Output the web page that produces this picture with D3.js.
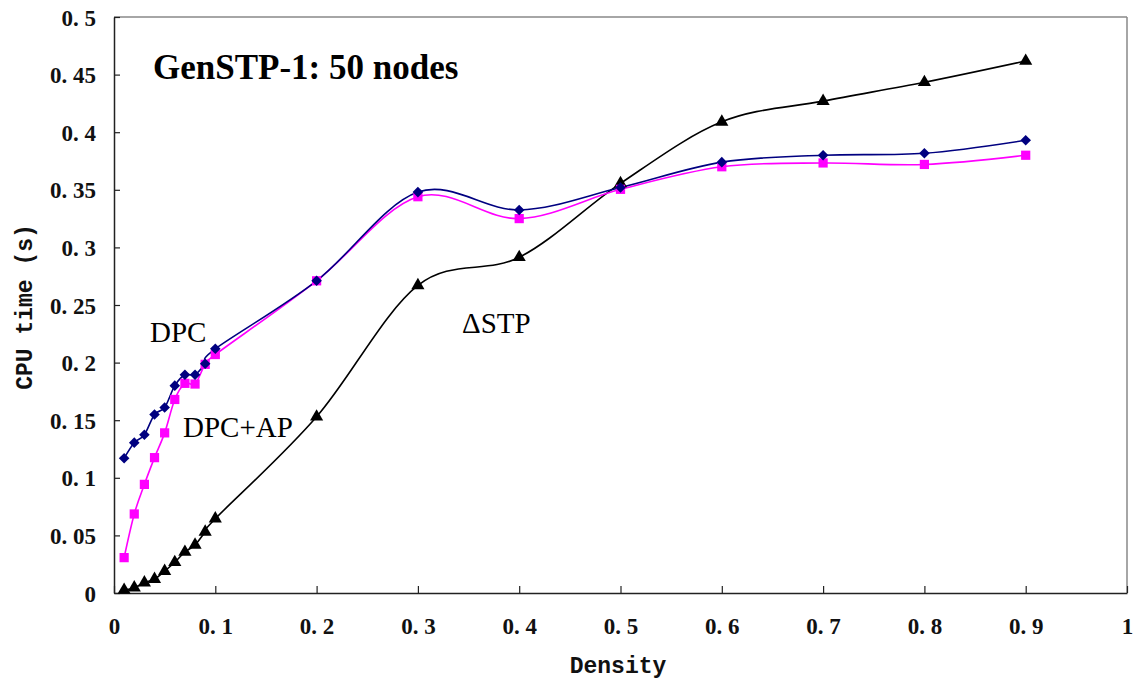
<!DOCTYPE html>
<html><head><meta charset="utf-8">
<script src="https://cdn.jsdelivr.net/npm/d3@7"></script>
<style>body{margin:0;background:#fff}</style>
</head><body>
<svg id="c" width="1141" height="685"></svg>
<script>
const density = [0.01,0.02,0.03,0.04,0.05,0.06,0.07,0.08,0.09,0.1,0.2,0.3,0.4,0.5,0.6,0.7,0.8,0.9];
const dpc    = [0.117,0.1305,0.1374,0.155,0.161,0.180,0.1895,0.1895,0.199,0.212,0.271,0.348,0.3325,0.352,0.374,0.380,0.3817,0.393];
const dpcAp  = [0.0307,0.0686,0.0943,0.1175,0.139,0.168,0.182,0.1814,0.1985,0.207,0.271,0.3440,0.325,0.3504,0.370,0.3733,0.372,0.380];
const dstp   = [0.0026,0.0046,0.009,0.012,0.019,0.0267,0.0356,0.0417,0.053,0.0645,0.1530,0.267,0.2914,0.3556,0.409,0.427,0.4433,0.4618];
const xTicks = [0,0.1,0.2,0.3,0.4,0.5,0.6,0.7,0.8,0.9,1];
const yTicks = [0,0.05,0.1,0.15,0.2,0.25,0.3,0.35,0.4,0.45,0.5];
const xTickLabels = ["0","0. 1","0. 2","0. 3","0. 4","0. 5","0. 6","0. 7","0. 8","0. 9","1"];
const yTickLabels = ["0","0. 05","0. 1","0. 15","0. 2","0. 25","0. 3","0. 35","0. 4","0. 45","0. 5"];

const svg = d3.select("#c");
const L=114, R=1127, T=17, B=593;
const x = d3.scaleLinear().domain([0,1]).range([L,R]);
const y = d3.scaleLinear().domain([0,0.5]).range([B,T]);
const serif = "'Liberation Serif', 'Times New Roman', serif";
const mono = "'Liberation Mono', monospace";

// frame
svg.append("line").attr("x1",L).attr("x2",R).attr("y1",T).attr("y2",T).attr("stroke","#888").attr("stroke-width",1.5);
svg.append("line").attr("x1",R).attr("x2",R).attr("y1",T).attr("y2",B).attr("stroke","#888").attr("stroke-width",1.5);

const xAxis = svg.append("g").attr("transform",`translate(0,${B})`)
  .call(d3.axisBottom(x).tickValues(xTicks).tickSizeInner(-7).tickSizeOuter(0).tickFormat((d,i)=>xTickLabels[i]));
xAxis.select(".domain").attr("stroke","#222").attr("stroke-width",1.5);
xAxis.selectAll(".tick line").attr("stroke","#222").attr("stroke-width",1.2);
xAxis.selectAll("text").attr("dy",0).attr("y",41).attr("font-family",serif).attr("font-weight","bold").attr("font-size",23).attr("fill","#111");

const yAxis = svg.append("g").attr("transform",`translate(${L},0)`)
  .call(d3.axisLeft(y).tickValues(yTicks).tickSizeInner(-6).tickSizeOuter(0).tickFormat((d,i)=>yTickLabels[i]));
yAxis.select(".domain").attr("stroke","#222").attr("stroke-width",1.5);
yAxis.selectAll(".tick line").attr("stroke","#222").attr("stroke-width",1.2);
yAxis.selectAll("text").attr("x",-18).attr("dy","0.35em").attr("font-family",serif).attr("font-weight","bold").attr("font-size",23).attr("fill","#111");

// axis titles
svg.append("text").attr("x",618).attr("y",673).attr("text-anchor","middle")
  .attr("font-family",mono).attr("font-weight","bold").attr("font-size",23).attr("fill","#111").text("Density");
svg.append("text").attr("transform","translate(32,307) rotate(-90)").attr("text-anchor","middle")
  .attr("font-family",mono).attr("font-weight","bold").attr("font-size",23).attr("fill","#111").text("CPU time (s)");

const line = d3.line().x(d=>x(d[0])).y(d=>y(d[1])).curve(d3.curveCatmullRom.alpha(0));
const series = [
  {vals:dstp, color:"#000000", shape:d3.symbolTriangle, size:75, rot:0},
  {vals:dpcAp, color:"#ff00ff", shape:d3.symbolSquare, size:85, rot:0},
  {vals:dpc, color:"#000080", shape:d3.symbolSquare, size:56, rot:45},
];
series.forEach(s=>{
  const pts = density.map((d,i)=>[d,s.vals[i]]);
  svg.append("path").attr("d",line(pts)).attr("fill","none").attr("stroke",s.color).attr("stroke-width",1.6);
});
series.forEach(s=>{
  const pts = density.map((d,i)=>[d,s.vals[i]]);
  svg.append("g").selectAll("path").data(pts).join("path")
    .attr("transform",d=>`translate(${x(d[0])},${y(d[1])}) rotate(${s.rot})`)
    .attr("d",d3.symbol().type(s.shape).size(s.size)).attr("fill",s.color);
});

svg.append("text").attr("x",153).attr("y",79).attr("font-family",serif).attr("font-weight","bold").attr("font-size",35).attr("fill","#000").text("GenSTP-1: 50 nodes");
svg.append("text").attr("x",150).attr("y",342).attr("font-family",serif).attr("font-size",29).attr("fill","#000").text("DPC");
svg.append("text").attr("x",183).attr("y",437).attr("font-family",serif).attr("font-size",29).attr("fill","#000").text("DPC+AP");
svg.append("text").attr("x",462).attr("y",333).attr("font-family",serif).attr("font-size",29).attr("fill","#000").text("ΔSTP");
</script>
</body></html>
